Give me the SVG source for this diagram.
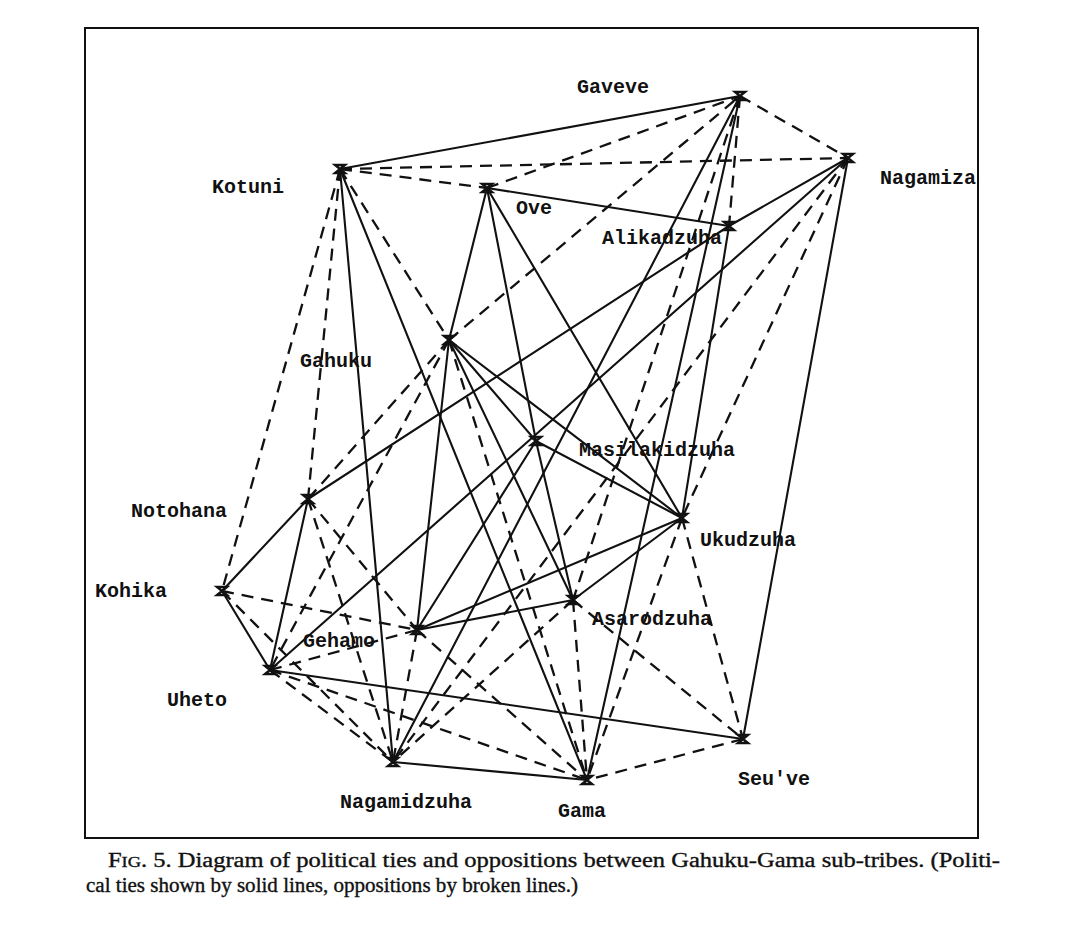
<svg xmlns="http://www.w3.org/2000/svg" width="1072" height="928" viewBox="0 0 1072 928">
<defs>
<style>
.s{stroke:#111;stroke-width:2.1;fill:none;stroke-linecap:round}
.d{stroke:#111;stroke-width:2.3;fill:none;stroke-dasharray:12 8}
.m{stroke:#111;stroke-width:2.4;fill:none}
.lb{font-family:"Liberation Mono","DejaVu Sans Mono",monospace;font-weight:bold;font-size:20px;fill:#111}
.cap{font-family:"Liberation Serif","DejaVu Serif",serif;font-size:20px;fill:#111;stroke:#111;stroke-width:0.35}
</style>
<path id="x" d="M-5,-4 L5,-4 L-5,4 L5,4 Z"/>
</defs>
<rect x="0" y="0" width="1072" height="928" fill="#fff"/>
<rect x="85" y="28" width="893" height="810" fill="none" stroke="#111" stroke-width="2"/>
<g id="connectors">
<g id="solid">
<line class="s" x1="340" y1="169" x2="740" y2="96"/>
<line class="s" x1="340" y1="169" x2="393" y2="762"/>
<line class="s" x1="340" y1="169" x2="587" y2="780"/>
<line class="s" x1="487" y1="188" x2="729" y2="226"/>
<line class="s" x1="487" y1="188" x2="449" y2="340"/>
<line class="s" x1="487" y1="188" x2="536" y2="441"/>
<line class="s" x1="487" y1="188" x2="682" y2="518"/>
<line class="s" x1="729" y1="226" x2="848" y2="158"/>
<line class="s" x1="729" y1="226" x2="682" y2="518"/>
<line class="s" x1="308" y1="499" x2="729" y2="226"/>
<line class="s" x1="270" y1="670" x2="848" y2="158"/>
<line class="s" x1="848" y1="158" x2="743" y2="739"/>
<line class="s" x1="740" y1="96" x2="393" y2="762"/>
<line class="s" x1="740" y1="96" x2="587" y2="780"/>
<line class="s" x1="449" y1="340" x2="536" y2="441"/>
<line class="s" x1="449" y1="340" x2="682" y2="518"/>
<line class="s" x1="449" y1="340" x2="573" y2="600"/>
<line class="s" x1="449" y1="340" x2="417" y2="630"/>
<line class="s" x1="536" y1="441" x2="682" y2="518"/>
<line class="s" x1="536" y1="441" x2="573" y2="600"/>
<line class="s" x1="536" y1="441" x2="417" y2="630"/>
<line class="s" x1="417" y1="630" x2="573" y2="600"/>
<line class="s" x1="417" y1="630" x2="682" y2="518"/>
<line class="s" x1="573" y1="600" x2="682" y2="518"/>
<line class="s" x1="308" y1="499" x2="222" y2="591"/>
<line class="s" x1="308" y1="499" x2="270" y2="670"/>
<line class="s" x1="222" y1="591" x2="270" y2="670"/>
<line class="s" x1="270" y1="670" x2="743" y2="739"/>
<line class="s" x1="393" y1="762" x2="587" y2="780"/>
</g>
<g id="broken">
<line class="d" x1="340" y1="169" x2="848" y2="158"/>
<line class="d" x1="340" y1="169" x2="487" y2="188"/>
<line class="d" x1="340" y1="169" x2="449" y2="340"/>
<line class="d" x1="340" y1="169" x2="308" y2="499"/>
<line class="d" x1="340" y1="169" x2="222" y2="591"/>
<line class="d" x1="487" y1="188" x2="740" y2="96"/>
<line class="d" x1="449" y1="340" x2="740" y2="96"/>
<line class="d" x1="740" y1="96" x2="729" y2="226"/>
<line class="d" x1="740" y1="96" x2="848" y2="158"/>
<line class="d" x1="740" y1="96" x2="573" y2="600"/>
<line class="d" x1="848" y1="158" x2="393" y2="762"/>
<line class="d" x1="848" y1="158" x2="682" y2="518"/>
<line class="d" x1="682" y1="518" x2="587" y2="780"/>
<line class="d" x1="682" y1="518" x2="743" y2="739"/>
<line class="d" x1="573" y1="600" x2="743" y2="739"/>
<line class="d" x1="573" y1="600" x2="587" y2="780"/>
<line class="d" x1="573" y1="600" x2="393" y2="762"/>
<line class="d" x1="743" y1="739" x2="587" y2="780"/>
<line class="d" x1="449" y1="340" x2="587" y2="780"/>
<line class="d" x1="449" y1="340" x2="308" y2="499"/>
<line class="d" x1="449" y1="340" x2="270" y2="670"/>
<line class="d" x1="308" y1="499" x2="393" y2="762"/>
<line class="d" x1="308" y1="499" x2="417" y2="630"/>
<line class="d" x1="222" y1="591" x2="417" y2="630"/>
<line class="d" x1="222" y1="591" x2="393" y2="762"/>
<line class="d" x1="270" y1="670" x2="417" y2="630"/>
<line class="d" x1="270" y1="670" x2="393" y2="762"/>
<line class="d" x1="270" y1="670" x2="587" y2="780"/>
<line class="d" x1="417" y1="630" x2="393" y2="762"/>
<line class="d" x1="417" y1="630" x2="587" y2="780"/>
</g>
</g>
<g id="n-gaveve"><use href="#x" class="m" x="740" y="96"/><text class="lb" x="577" y="93">Gaveve</text></g>
<g id="n-nagamiza"><use href="#x" class="m" x="848" y="158"/><text class="lb" x="880" y="184">Nagamiza</text></g>
<g id="n-kotuni"><use href="#x" class="m" x="340" y="169"/><text class="lb" x="212" y="193">Kotuni</text></g>
<g id="n-ove"><use href="#x" class="m" x="487" y="188"/><text class="lb" x="516" y="214">Ove</text></g>
<g id="n-alikadzuha"><use href="#x" class="m" x="729" y="226"/><text class="lb" x="602" y="244">Alikadzuha</text></g>
<g id="n-gahuku"><use href="#x" class="m" x="449" y="340"/><text class="lb" x="300" y="367">Gahuku</text></g>
<g id="n-masilakidzuha"><use href="#x" class="m" x="536" y="441"/><text class="lb" x="579" y="456">Masilakidzuha</text></g>
<g id="n-notohana"><use href="#x" class="m" x="308" y="499"/><text class="lb" x="131" y="517">Notohana</text></g>
<g id="n-ukudzuha"><use href="#x" class="m" x="682" y="518"/><text class="lb" x="700" y="546">Ukudzuha</text></g>
<g id="n-kohika"><use href="#x" class="m" x="222" y="591"/><text class="lb" x="95" y="597">Kohika</text></g>
<g id="n-asarodzuha"><use href="#x" class="m" x="573" y="600"/><text class="lb" x="592" y="625">Asarodzuha</text></g>
<g id="n-gehamo"><use href="#x" class="m" x="417" y="630"/><text class="lb" x="303" y="647">Gehamo</text></g>
<g id="n-uheto"><use href="#x" class="m" x="270" y="670"/><text class="lb" x="167" y="706">Uheto</text></g>
<g id="n-seuve"><use href="#x" class="m" x="743" y="739"/><text class="lb" x="738" y="785">Seu've</text></g>
<g id="n-nagamidzuha"><use href="#x" class="m" x="393" y="762"/><text class="lb" x="340" y="808">Nagamidzuha</text></g>
<g id="n-gama"><use href="#x" class="m" x="587" y="780"/><text class="lb" x="558" y="817">Gama</text></g>
<g id="caption">
<text class="cap" x="108" y="867" textLength="892" lengthAdjust="spacingAndGlyphs">F<tspan font-size="15">IG</tspan>. 5. Diagram of political ties and oppositions between Gahuku-Gama sub-tribes. (Politi-</text>
<text class="cap" x="86" y="892" textLength="492" lengthAdjust="spacingAndGlyphs">cal ties shown by solid lines, oppositions by broken lines.)</text>
</g>
</svg>
